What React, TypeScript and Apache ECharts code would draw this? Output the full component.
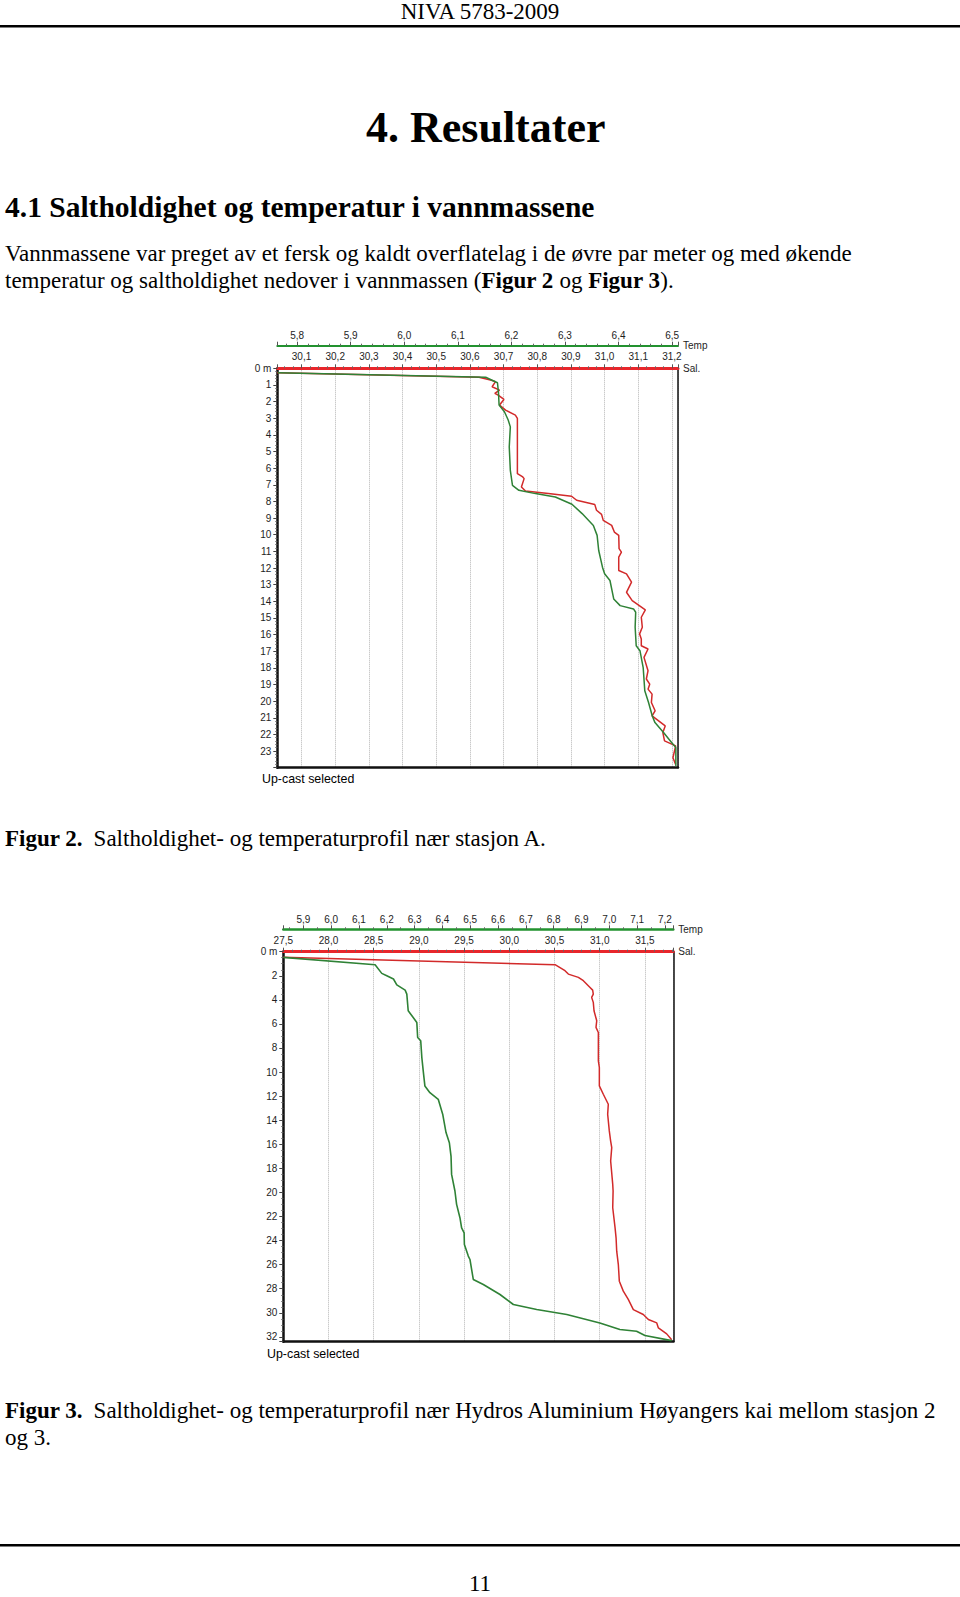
import React, { useEffect, useRef } from "react";
import * as echarts from "echarts";

// ---------- Figur 2 (stasjon A) ----------
const fig2TempDepth = [0.26, 0.54, 0.87, 1.51, 2.21, 2.61, 3.11, 3.52, 4.72, 6.13, 7.03, 7.33, 7.53, 7.73, 8.17, 8.73, 9.44, 10.04, 10.95, 11.95, 12.35, 12.75, 13.86, 14.26, 14.46, 14.66, 15.56, 16.67, 16.97, 17.98, 19.38, 20.08, 20.89, 21.29, 21.89, 22.49, 22.79, 23.9];
const fig2Temp = [5.764, 6.152, 6.174, 6.176, 6.177, 6.187, 6.194, 6.198, 6.196, 6.198, 6.202, 6.214, 6.245, 6.282, 6.313, 6.332, 6.353, 6.36, 6.363, 6.37, 6.374, 6.384, 6.391, 6.403, 6.428, 6.432, 6.431, 6.433, 6.44, 6.446, 6.449, 6.456, 6.463, 6.468, 6.484, 6.499, 6.507, 6.507];
const fig2SalDepth = [0.26, 0.54, 0.7, 0.8, 1.11, 1.31, 1.51, 1.61, 1.87, 2.21, 2.51, 2.81, 3.01, 6.33, 6.53, 6.63, 7.13, 7.37, 7.53, 7.69, 7.93, 8.19, 8.53, 8.78, 9.14, 9.44, 9.84, 10.04, 10.84, 11.05, 11.35, 12.15, 12.35, 12.85, 13.46, 13.96, 14.52, 14.96, 15.56, 15.96, 16.27, 16.67, 16.87, 17.37, 18.17, 18.67, 18.98, 19.28, 19.58, 20.08, 20.58, 20.89, 21.49, 21.89, 22.39, 22.69, 23.4, 23.8];
const fig2Sal = [30.028, 30.627, 30.661, 30.676, 30.666, 30.688, 30.674, 30.684, 30.701, 30.688, 30.706, 30.735, 30.741, 30.741, 30.757, 30.761, 30.753, 30.765, 30.833, 30.902, 30.917, 30.971, 30.976, 30.991, 30.996, 31.021, 31.029, 31.042, 31.043, 31.05, 31.042, 31.042, 31.065, 31.08, 31.065, 31.082, 31.121, 31.109, 31.112, 31.104, 31.109, 31.109, 31.129, 31.117, 31.129, 31.124, 31.134, 31.129, 31.141, 31.139, 31.15, 31.141, 31.18, 31.173, 31.178, 31.211, 31.203, 31.211];
const fig2TempRange = [5.763, 6.511];
const fig2SalRange = [30.028, 31.218];
const fig2DepthMax = 24;

// ---------- Figur 3 (Hydros Aluminium Høyangers kai) ----------
const fig3TempDepth = [0.47, 1.08, 1.8, 2.0, 2.27, 2.75, 3.19, 3.52, 4.91, 5.47, 5.88, 7.13, 7.4, 8.79, 9.9, 11.15, 11.71, 12.26, 13.5, 15.03, 15.87, 17.0, 18.5, 19.88, 20.99, 22.1, 22.94, 23.35, 24.32, 25.29, 25.57, 27.23, 27.65, 28.48, 29.31, 29.73, 30.14, 30.84, 31.39, 31.53, 31.89, 32.31];
const fig3Temp = [5.828, 6.158, 6.182, 6.2, 6.224, 6.236, 6.266, 6.272, 6.277, 6.295, 6.308, 6.311, 6.322, 6.326, 6.331, 6.337, 6.355, 6.385, 6.401, 6.413, 6.425, 6.431, 6.433, 6.445, 6.451, 6.463, 6.469, 6.478, 6.479, 6.493, 6.499, 6.511, 6.547, 6.607, 6.655, 6.739, 6.847, 6.966, 7.038, 7.098, 7.128, 7.224];
const fig3SalDepth = [0.47, 1.08, 1.58, 1.86, 2.13, 2.41, 2.97, 3.19, 3.52, 3.8, 4.21, 4.91, 5.74, 6.29, 6.71, 9.07, 9.62, 11.15, 11.84, 12.67, 13.5, 14.89, 15.73, 16.28, 17.39, 19.33, 19.88, 21.27, 22.94, 23.77, 24.88, 25.99, 27.37, 28.2, 28.89, 29.73, 30.14, 30.56, 30.84, 31.26, 31.75, 32.23];
const fig3Sal = [27.5, 30.506, 30.616, 30.653, 30.764, 30.819, 30.893, 30.922, 30.929, 30.911, 30.929, 30.937, 30.967, 30.959, 30.985, 30.985, 30.996, 30.996, 31.04, 31.095, 31.088, 31.106, 31.121, 31.133, 31.121, 31.144, 31.148, 31.144, 31.17, 31.181, 31.188, 31.206, 31.217, 31.261, 31.316, 31.372, 31.482, 31.538, 31.631, 31.649, 31.741, 31.796];
const fig3TempRange = [5.828, 7.23];
const fig3SalRange = [27.5, 31.814];
const fig3DepthMax = 32.4;

// ---------- Page texts ----------
const headerText = "NIVA 5783-2009";
const chapterTitle = "4. Resultater";
const sectionTitle = "4.1 Saltholdighet og temperatur i vannmassene";
const bodyLine1 = "Vannmassene var preget av et fersk og kaldt overflatelag i de øvre par meter og med økende";
const bodyLine2Parts = ["temperatur og saltholdighet nedover i vannmassen (", "Figur 2", "\u00a0og\u00a0", "Figur 3", ")."];
const fig2Label = "Figur 2.";
const fig2Caption = "Saltholdighet- og temperaturprofil nær stasjon A.";
const fig3Label = "Figur 3.";
const fig3CaptionLine1 = "Saltholdighet- og temperaturprofil nær Hydros Aluminium Høyangers kai mellom stasjon 2";
const fig3CaptionLine2 = "og 3.";
const upcastText = "Up-cast selected";
const pageNumber = "11";

const SERIF = '"Liberation Serif","Times New Roman",serif';
const SANS = '"Liberation Sans",Arial,sans-serif';
const GREEN_AXIS = "#22922f";
const RED_AXIS = "#e8262b";
const GREEN_LINE = "#2f8236";
const RED_LINE = "#d22a2a";

const pairs = (vals: number[], depths: number[]) => vals.map((v, i) => [v, depths[i]]);

function stepFormatter(step: number, decimals: number) {
  return (v: number) => {
    const k = v / step;
    if (Math.abs(k - Math.round(k)) > 1e-6) return "";
    return v.toFixed(decimals).replace(".", ",");
  };
}
function depthFormatter(step: number, max: number) {
  return (v: number) => {
    if (Math.abs(v - max) < 1e-6) return "";
    const k = v / step;
    if (Math.abs(k - Math.round(k)) > 1e-6) return "";
    if (v === 0) return "0 m";
    return String(Math.round(v));
  };
}

const labelStyle = { fontFamily: SANS, fontSize: 10, color: "#1e1e1e" };
const nameStyle = { fontFamily: SANS, fontSize: 10, color: "#1e1e1e", align: "left", verticalAlign: "middle" };

function topAxis(opts: any) {
  return {
    type: "value",
    gridIndex: opts.grid,
    position: "top",
    offset: opts.offset,
    min: opts.range[0],
    max: opts.range[1],
    ...(opts.interval ? { interval: opts.interval } : { splitNumber: opts.splitNumber }),
    name: opts.name,
    nameLocation: "end",
    nameGap: 5,
    nameTextStyle: nameStyle,
    axisLine: { show: true, onZero: false, lineStyle: { color: opts.color, width: opts.width } },
    axisTick: { show: true, length: 4, lineStyle: { color: "#555", width: 1 } },
    minorTick: { show: true, splitNumber: opts.minor, length: 2, lineStyle: { color: "#666", width: 1 } },
    axisLabel: { ...labelStyle, margin: opts.margin, formatter: stepFormatter(opts.step, 1) },
    splitLine: opts.split
      ? { show: true, lineStyle: { color: "#b4b4b4", width: 1, type: "dotted" } }
      : { show: false },
  };
}
function depthAxis(grid: number, max: number, interval: number, minor: number) {
  return {
    type: "value",
    gridIndex: grid,
    position: "left",
    inverse: true,
    min: 0,
    max,
    interval,
    axisLine: { show: true, onZero: false, lineStyle: { color: "#111", width: 2.5 } },
    axisTick: { show: true, length: 4, lineStyle: { color: "#444", width: 1 } },
    minorTick: { show: true, splitNumber: minor, length: 2, lineStyle: { color: "#666", width: 1 } },
    axisLabel: { ...labelStyle, margin: 6, formatter: depthFormatter(interval, max) },
    splitLine: { show: false },
  };
}
function borderX(grid: number) {
  return {
    type: "value", gridIndex: grid, position: "bottom", min: 0, max: 1,
    axisLine: { show: true, onZero: false, lineStyle: { color: "#111", width: 2.5 } },
    axisTick: { show: false }, axisLabel: { show: false }, splitLine: { show: false },
  };
}
function borderY(grid: number) {
  return {
    type: "value", gridIndex: grid, position: "right", min: 0, max: 1,
    axisLine: { show: true, onZero: false, lineStyle: { color: "#111", width: 1.5 } },
    axisTick: { show: false }, axisLabel: { show: false }, splitLine: { show: false },
  };
}

function txt(text: string, x: number, y: number, size: number, family: string, weight = "normal", align = "left") {
  return {
    type: "text",
    x,
    y,
    silent: true,
    style: {
      text,
      fontSize: size,
      fontFamily: family,
      fontWeight: weight,
      fill: "#000",
      textAlign: align,
      textVerticalAlign: "middle",
    },
  };
}

export default function App() {
  const ref = useRef<HTMLDivElement>(null);
  useEffect(() => {
    if (!ref.current) return;
    const chart = echarts.init(ref.current, undefined, { renderer: "svg" });
    const option: any = {
      animation: false,
      backgroundColor: "#ffffff",
      grid: [
        { left: 277.3, top: 368.3, width: 400.7, height: 399.4, containLabel: false },
        { left: 283.3, top: 951.7, width: 390, height: 390, containLabel: false },
      ],
      xAxis: [
        topAxis({ grid: 0, offset: 22.6, range: fig2TempRange, splitNumber: 8, name: "Temp", color: GREEN_AXIS, width: 2, minor: 5, margin: 5, step: 0.1, split: false }),
        topAxis({ grid: 0, offset: 0, range: fig2SalRange, splitNumber: 12, name: "Sal.", color: RED_AXIS, width: 3, minor: 4, margin: 7, step: 0.1, split: true }),
        borderX(0),
        topAxis({ grid: 1, offset: 22.4, range: fig3TempRange, splitNumber: 14, name: "Temp", color: GREEN_AXIS, width: 2.5, minor: 2, margin: 5, step: 0.1, split: false }),
        topAxis({ grid: 1, offset: 0, range: fig3SalRange, interval: 0.5, name: "Sal.", color: RED_AXIS, width: 3, minor: 5, margin: 6, step: 0.5, split: true }),
        borderX(1),
      ],
      yAxis: [
        depthAxis(0, fig2DepthMax, 1, 5),
        borderY(0),
        depthAxis(1, fig3DepthMax, 2, 4),
        borderY(1),
      ],
      series: [
        {
          type: "line", name: "Sal", xAxisIndex: 1, yAxisIndex: 0, showSymbol: false, symbol: "none",
          lineStyle: { color: RED_LINE, width: 1.5 }, data: pairs(fig2Sal, fig2SalDepth), silent: true,
        },
        {
          type: "line", name: "Temp", xAxisIndex: 0, yAxisIndex: 0, showSymbol: false, symbol: "none",
          lineStyle: { color: GREEN_LINE, width: 1.5 }, data: pairs(fig2Temp, fig2TempDepth), silent: true,
        },
        {
          type: "line", name: "Sal", xAxisIndex: 4, yAxisIndex: 2, showSymbol: false, symbol: "none",
          lineStyle: { color: RED_LINE, width: 1.5 }, data: pairs(fig3Sal, fig3SalDepth), silent: true,
        },
        {
          type: "line", name: "Temp", xAxisIndex: 3, yAxisIndex: 2, showSymbol: false, symbol: "none",
          lineStyle: { color: GREEN_LINE, width: 1.6 }, data: pairs(fig3Temp, fig3TempDepth), silent: true,
        },
      ],
      graphic: [
        txt(headerText, 480, 11.7, 23, SERIF, "normal", "center"),
        { type: "rect", shape: { x: 0, y: 25, width: 960, height: 2.5 }, style: { fill: "#000" }, silent: true },
        txt(chapterTitle, 366, 127.6, 44, SERIF, "bold"),
        txt(sectionTitle, 5, 206.5, 29.5, SERIF, "bold"),
        txt(bodyLine1, 5, 253.2, 23, SERIF),
        {
          type: "text",
          x: 5,
          y: 280.7,
          silent: true,
          style: {
            text:
              "{r|" + bodyLine2Parts[0] + "}{b|" + bodyLine2Parts[1] + "}{r|" + bodyLine2Parts[2] + "}{b|" +
              bodyLine2Parts[3] + "}{r|" + bodyLine2Parts[4] + "}",
            fontSize: 23,
            fontFamily: SERIF,
            fill: "#000",
            textAlign: "left",
            textVerticalAlign: "middle",
            rich: {
              r: { fontSize: 23, fontFamily: SERIF, fontWeight: "normal", fill: "#000" },
              b: { fontSize: 23, fontFamily: SERIF, fontWeight: "bold", fill: "#000" },
            },
          },
        },
        txt(upcastText, 262, 779, 12.4, SANS),
        txt(fig2Label, 5, 838.2, 23, SERIF, "bold"),
        txt(fig2Caption, 93.6, 838.2, 23, SERIF),
        txt(upcastText, 267, 1353.5, 12.4, SANS),
        txt(fig3Label, 5, 1410.5, 23, SERIF, "bold"),
        txt(fig3CaptionLine1, 93.6, 1410.5, 23, SERIF),
        txt(fig3CaptionLine2, 5, 1437.7, 23, SERIF),
        { type: "rect", shape: { x: 0, y: 1544, width: 960, height: 2.5 }, style: { fill: "#000" }, silent: true },
        txt(pageNumber, 480, 1583.5, 23, SERIF, "normal", "center"),
      ],
    };
    chart.setOption(option);
    return () => chart.dispose();
  }, []);
  return (
    <div
      ref={ref}
      style={{ position: "absolute", left: 0, top: 0, width: 960, height: 1597, background: "#fff" }}
    />
  );
}
